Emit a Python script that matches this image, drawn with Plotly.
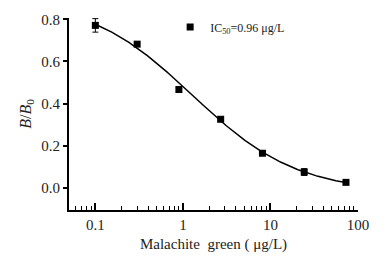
import numpy as np
import plotly.graph_objects as go

# Measured points
conc = [0.1, 0.3, 0.9, 2.7, 8.1, 24.3, 72.9]
ratio = [0.771, 0.682, 0.467, 0.326, 0.165, 0.076, 0.027]
ratio_err = [0.032, 0.008, 0.008, 0.008, 0.008, 0.016, 0.006]

# Four-parameter logistic fit
fit_top = 0.90
fit_bottom = -0.02
fit_c = 1.286
fit_slope = 0.73

x_ticks = [0.1, 1, 10, 100]
x_ticktext = ["0.1", "1", "10", "100"]
x_minor_ticks = [0.06, 0.07, 0.08, 0.09,
                 0.2, 0.3, 0.4, 0.5, 0.6, 0.7, 0.8, 0.9,
                 2, 3, 4, 5, 6, 7, 8, 9,
                 20, 30, 40, 50, 60, 70, 80, 90]
y_ticks = [0.0, 0.2, 0.4, 0.6, 0.8]

legend_label = "IC<sub>50</sub>=0.96 μg/L"

xc = np.logspace(np.log10(conc[0]), np.log10(conc[-1]), 200)
yc = fit_bottom + (fit_top - fit_bottom) / (1 + (xc / fit_c) ** fit_slope)

FONT = "Liberation Serif"
XRANGE = [np.log10(0.05), 2.0]

fig = go.Figure()
fig.add_trace(go.Scatter(
    x=xc, y=yc, mode="lines", line=dict(color="black", width=1.5),
    showlegend=False, hoverinfo="skip"))
fig.add_trace(go.Scatter(
    x=conc, y=ratio, mode="markers", name=legend_label,
    marker=dict(symbol="square", size=7, color="black"),
    error_y=dict(type="data", array=ratio_err, color="black",
                 thickness=1, width=3)))

fig.update_layout(
    width=391, height=266,
    margin=dict(l=69, r=33, t=18, b=56, autoexpand=False),
    paper_bgcolor="white", plot_bgcolor="white",
    font=dict(family=FONT, color="#222", size=15),
    legend=dict(x=0.35, y=1.028, xanchor="left", yanchor="top",
                bgcolor="rgba(0,0,0,0)", font=dict(size=12, family=FONT),
                itemwidth=30),
    xaxis=dict(
        type="log", range=XRANGE, automargin=False,
        tickmode="array", tickvals=x_ticks, ticktext=x_ticktext,
        ticks="inside", ticklen=7, tickwidth=1.5, tickcolor="black",
        showline=True, linecolor="black", linewidth=2,
        showgrid=False, zeroline=False,
        minor=dict(tickmode="array", tickvals=x_minor_ticks,
                   ticks="inside", ticklen=4, tickwidth=1.2,
                   tickcolor="black", showgrid=False),
        title=dict(text="Malachite\u00a0\u00a0green ( μg/L)",
                   font=dict(size=15, family=FONT), standoff=6),
        tickfont=dict(size=15, family=FONT),
    ),
    yaxis=dict(
        range=[-0.104, 0.806], automargin=False,
        tickvals=y_ticks, tickformat=".1f",
        ticks="outside", ticklen=4, tickwidth=1.5, tickcolor="black",
        showline=True, linecolor="black", linewidth=2,
        showgrid=False, zeroline=False,
        title=dict(text="<i>B</i>/<i>B</i><sub>0</sub>",
                   font=dict(size=16, family=FONT), standoff=6),
        tickfont=dict(size=15, family=FONT),
    ),
)

fig.write_html("out.html",
               config={"displayModeBar": False},
               post_script="document.body.style.margin='0';")
